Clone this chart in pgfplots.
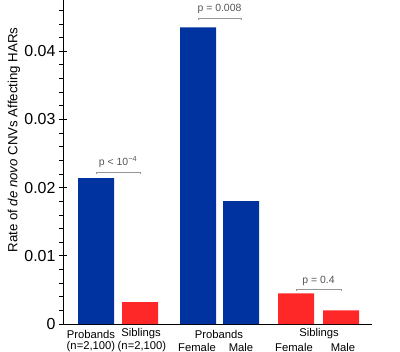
\documentclass[border=0pt]{standalone}
\usepackage{fontspec}
\setmainfont{Liberation Sans}
\usepackage{pgfplots}
\pgfplotsset{compat=1.18}
\definecolor{barblue}{RGB}{0,51,160}
\definecolor{barred}{RGB}{255,40,40}
\definecolor{ptext}{RGB}{85,85,85}
\definecolor{pline}{RGB}{150,150,150}
\begin{document}
\begin{tikzpicture}
\useasboundingbox (0,0) rectangle (400bp,352bp);
\begin{axis}[
  at={(63bp,28bp)}, anchor=south west,
  scale only axis, width=309bp, height=324bp,
  xmin=63, xmax=372, ymin=0, ymax=0.0475,
  axis x line=bottom, axis y line=left,
  axis line style={-, line width=0.8bp, black},
  xtick=\empty,
  ytick={0,0.01,0.02,0.03,0.04},
  yticklabels={0,0.01,0.02,0.03,0.04},
  minor ytick={0.002,0.004,0.006,0.008,0.012,0.014,0.016,0.018,0.022,0.024,0.026,0.028,0.032,0.034,0.036,0.038,0.042,0.044,0.046},
  tick align=center, major tick length=8bp, minor tick length=3.5bp,
  minor tick style={xshift=-1.75bp},
  tick style={black, line width=0.7bp},
  yticklabel style={font=\fontsize{16}{18}\selectfont},
  ybar, bar width=36, bar shift=0pt,
  clip=false,
]
\addplot[fill=barblue, draw=none] coordinates {(96,0.0214) (198,0.0435) (241,0.0180)};
\addplot[fill=barred, draw=none] coordinates {(140,0.0032) (296,0.0045) (341,0.0020)};
% x labels
\begin{scope}[every node/.style={font=\fontsize{11.3}{12}\selectfont, inner sep=0pt}]
\node at (axis cs:91,-0.00147) {Probands};
\node at (axis cs:91,-0.00337) {(n=2,100)};
\node at (axis cs:141,-0.00147) {Siblings};
\node at (axis cs:142,-0.00337) {(n=2,100)};
\node at (axis cs:219,-0.00147) {Probands};
\node at (axis cs:197,-0.00337) {Female};
\node at (axis cs:241,-0.00337) {Male};
\node at (axis cs:319,-0.00147) {Siblings};
\node at (axis cs:294,-0.00337) {Female};
\node at (axis cs:343,-0.00337) {Male};
\end{scope}
% brackets
\draw[pline, line width=0.7bp] (axis cs:96,0.02197) -- (axis cs:96,0.02227) -- (axis cs:140,0.02227) -- (axis cs:140,0.02197);
\node[ptext, font=\fontsize{10.5}{12}\selectfont] at (axis cs:118,0.02374) {p < 10\textsuperscript{−4}};
\draw[pline, line width=0.7bp] (axis cs:198,0.04454) -- (axis cs:198,0.04484) -- (axis cs:241,0.04484) -- (axis cs:241,0.04454);
\node[ptext, font=\fontsize{10.5}{12}\selectfont] at (axis cs:219.5,0.04615) {p = 0.008};
\draw[pline, line width=0.7bp] (axis cs:296,0.00483) -- (axis cs:296,0.00513) -- (axis cs:341,0.00513) -- (axis cs:341,0.00483);
\node[ptext, font=\fontsize{10.5}{12}\selectfont] at (axis cs:318.5,0.00625) {p = 0.4};
\end{axis}
\node[rotate=90, font=\fontsize{13.3}{15}\selectfont] at (14bp,212bp) {Rate of \textit{de novo} CNVs Affecting HARs};
\end{tikzpicture}
\end{document}
